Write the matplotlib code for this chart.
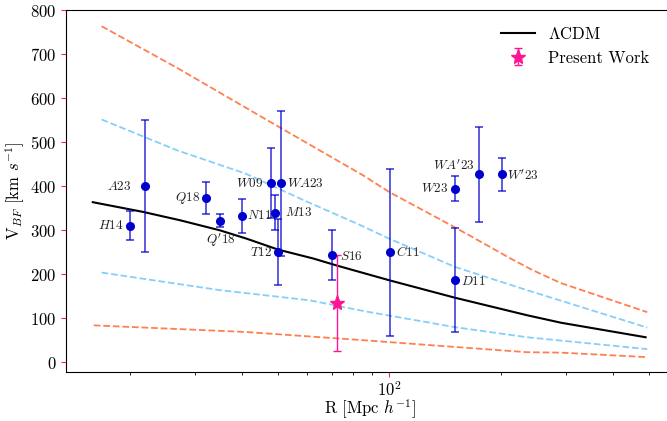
import matplotlib
matplotlib.use("Agg")
import matplotlib.pyplot as plt

plt.rcParams['font.family'] = 'serif'
plt.rcParams['font.serif'] = ['cmr10', 'DejaVu Serif']
plt.rcParams['mathtext.fontset'] = 'cm'
plt.rcParams['axes.formatter.use_mathtext'] = True
plt.rcParams['axes.unicode_minus'] = False

# literature measurements
labels = ['H14', 'A23', 'Q18', "Q'18", 'N11', 'W09', 'WA23', 'M13', 'T12',
          'S16', 'C11', 'D11', 'W23', "WA'23", "W'23"]
R_obs = [20.0, 22.0, 32.0, 35.1, 40.0, 48.0, 51.1, 49.2, 50.3,
         70.2, 100.3, 150.5, 150.5, 174.0, 201.0]
V_obs = [310, 400, 373, 322, 333, 407, 407, 340, 250,
         243, 250, 188, 395, 427, 427]
V_err = [33, 150, 36, 15, 38, 80, 165, 40, 75,
         57, 190, 118, 28, 107, 37]

# present work
R_pw = [72.2]
V_pw = [134]
V_pw_err = [109]

# LCDM expectation and scatter bands
R_lcdm = [15.9, 21.7, 27.3, 35, 41.3, 50.3, 62.4, 72.2, 100.5, 150, 235, 290, 490]
V_lcdm = [364, 342, 323, 300, 281, 256, 236, 220, 186, 147, 107, 90, 57]

R_blue_hi = [16.8, 26.8, 41, 59, 83, 100, 129, 150, 235, 495]
V_blue_hi = [552, 482, 429, 368, 313, 281, 241, 217, 164, 79]
R_blue_lo = [16.8, 35, 61, 86, 150, 235, 495]
V_blue_lo = [204, 164, 141, 116, 80, 57, 30]

R_orng_hi = [16.8, 27, 47, 85, 100, 150, 168, 212, 244, 290, 495]
V_orng_hi = [764, 668, 550, 425, 387, 307, 284, 236, 209, 180, 114]
R_orng_lo = [16, 41, 86, 150, 235, 290, 490]
V_orng_lo = [84, 69, 50, 35, 23, 22, 12]

# label offsets in pixels (dx, dy, ha)
offsets = [(-6, 0, 'right'), (-14, 0, 'right'), (-6, 0, 'right'), (0, -20, 'center'),
           (5, 0, 'left'), (-8, 0, 'right'), (6, 0, 'left'), (10, 0, 'left'),
           (-6, 0, 'right'), (8, -1, 'left'), (6, 0, 'left'), (6, -2, 'left'),
           (-7, 0, 'right'), (-4, 9, 'right'), (5, -1, 'left')]

fig = plt.figure(figsize=(6.67, 4.21), dpi=100)
ax = fig.add_axes([66 / 667, 1 - 372 / 421, (675 - 66) / 667, (372 - 9.5) / 421])

ax.plot(R_orng_hi, V_orng_hi, '--', color='coral', lw=1.3)
ax.plot(R_orng_lo, V_orng_lo, '--', color='coral', lw=1.3)
ax.plot(R_blue_hi, V_blue_hi, '--', color='lightskyblue', lw=1.3)
ax.plot(R_blue_lo, V_blue_lo, '--', color='lightskyblue', lw=1.3)
ax.plot(R_lcdm, V_lcdm, '-', color='black', lw=1.5, label=r'$\Lambda$CDM')

ax.errorbar(R_obs, V_obs, yerr=V_err, fmt='o', color='mediumblue', ms=5.5,
            ecolor=(0.0, 0.0, 0.8, 0.75), elinewidth=1.2, capsize=3, capthick=1.2)
ax.errorbar(R_pw, V_pw, yerr=V_pw_err, fmt='*', color='deeppink', ms=11,
            ecolor='deeppink', elinewidth=1.0, capsize=3, label='Present Work')

for lab, x, y, (dx, dy, ha) in zip(labels, R_obs, V_obs, offsets):
    ax.annotate('$' + lab + '$', (x, y), xytext=(dx, dy), textcoords='offset pixels',
                ha=ha, va='center', fontsize=9.5, color='#222222')

ax.set_xscale('log')
ax.set_xlim(13.47, 588)
ax.set_ylim(-22, 802)
ax.set_yticks([0, 100, 200, 300, 400, 500, 600, 700, 800])
ax.tick_params(axis='both', which='major', labelsize=12, color='deeppink')
ax.tick_params(axis='x', which='major', pad=2)
ax.tick_params(axis='x', which='minor', color='black')

ax.set_xlabel(r'R [Mpc $h^{-1}$]', fontsize=12, labelpad=-1)
ax.set_ylabel(r'V$_{BF}$ [km $s^{-1}$]', fontsize=12, labelpad=2)

ax.legend(loc='upper right', bbox_to_anchor=(664 / 667, 1 - 11 / 421),
          bbox_transform=fig.transFigure, frameon=False, fontsize=12)

fig.savefig('out.png', dpi=100)
